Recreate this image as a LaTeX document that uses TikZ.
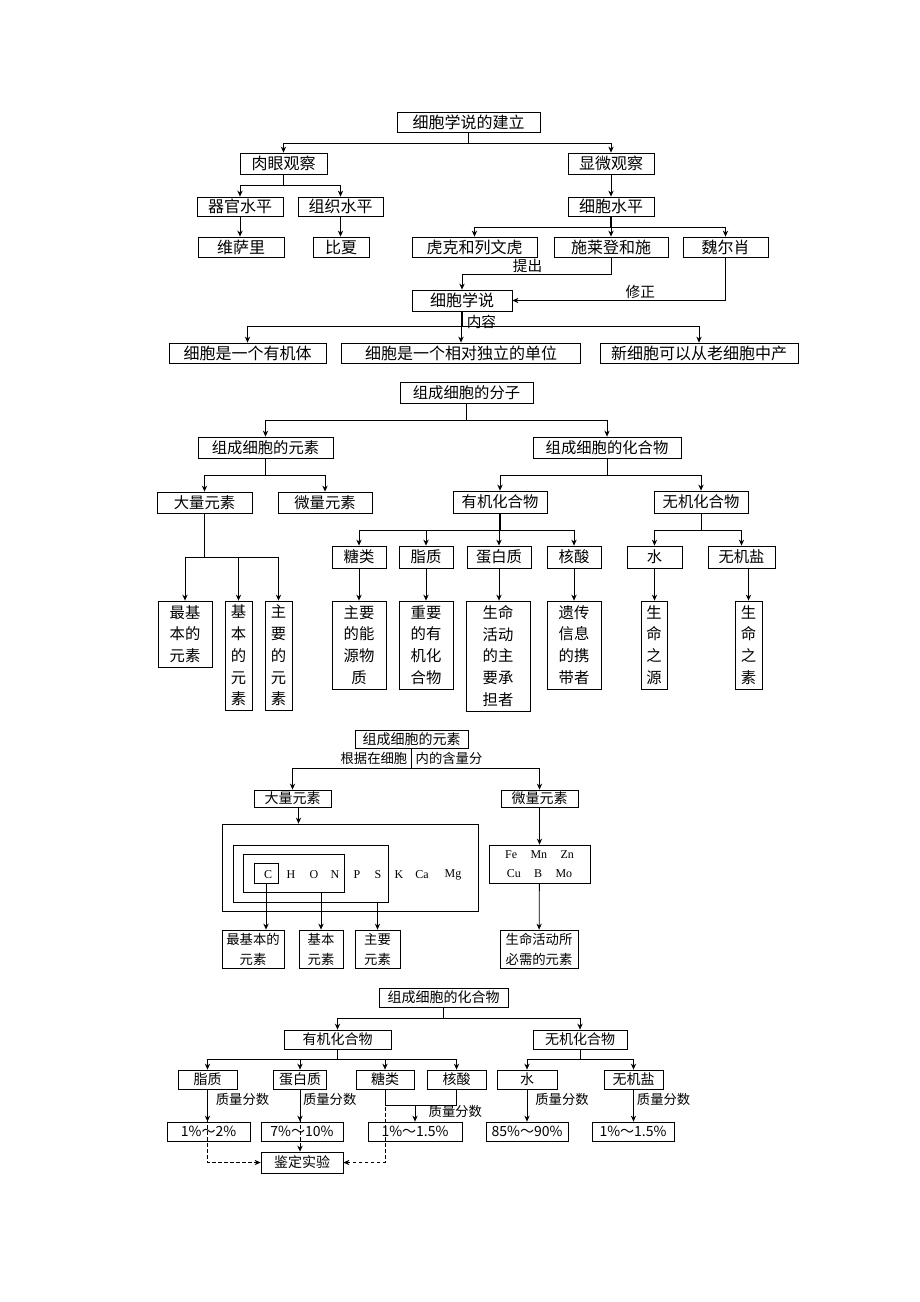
\documentclass[tikz,border=0pt]{standalone}
\usepackage{fontspec}
\setmainfont{Noto Sans CJK SC}
\newfontfamily\elfont{Liberation Serif}
\usetikzlibrary{arrows.meta}

\tikzset{
  wd/.style={minimum width=#1*0.75pt},
  ht/.style={minimum height=#1*0.75pt},
  box/.style={draw, inner sep=0pt, font=\fontsize{10.5}{12}\selectfont},
  col/.style={box, align=center, font=\fontsize{11.5}{16.3}\selectfont},
  pair/.style={box, align=center, font=\fontsize{10}{15}\selectfont},
  lbl/.style={inner sep=1pt, font=\fontsize{10}{11}\selectfont},
  el/.style={inner sep=0pt, font=\elfont\fontsize{9}{10}\selectfont},
  ar/.style={-{Stealth[length=4.5pt,width=4pt]}},
  dashline/.style={dash pattern=on 2.5pt off 2pt},
  bold/.style={line width=1.2pt},
}

\begin{document}
\begin{tikzpicture}[x=0.75pt,y=-0.75pt,line width=0.6pt]
    \useasboundingbox (0,0) rectangle (920,1302);

    % cell theory
    \begin{scope}[box/.append style={font=\fontsize{12}{14}\selectfont},
                  lbl/.append style={font=\fontsize{11}{12}\selectfont}]
    \node[box,wd=143,ht=20] (build) at (468.5,122) {细胞学说的建立};
    \node[box,wd=87,ht=21] (naked) at (283.5,163.5) {肉眼观察};
    \node[box,wd=86,ht=21] (micro) at (611,163.5) {显微观察};
    \node[box,wd=86,ht=19] (organ) at (240,206.5) {器官水平};
    \node[box,wd=85,ht=19] (tissue) at (340.5,206.5) {组织水平};
    \node[box,wd=86,ht=19] (cell) at (611,206.5) {细胞水平};
    \node[box,wd=86,ht=20] (vesalius) at (241,247) {维萨里};
    \node[box,wd=56,ht=20] (bichat) at (341,247) {比夏};
    \node[box,wd=125,ht=20] (hooke) at (474.5,247) {虎克和列文虎};
    \node[box,wd=114,ht=20] (schleiden) at (611,247) {施莱登和施};
    \node[box,wd=85,ht=20] (virchow) at (725.5,247) {魏尔肖};
    \node[box,wd=100,ht=21] (theory) at (462,300.5) {细胞学说};
    \node[box,wd=157,ht=20] (whole) at (247.5,353) {细胞是一个有机体};
    \node[box,wd=239,ht=20] (unit) at (461,353) {细胞是一个相对独立的单位};
    \node[box,wd=198,ht=20] (newcell) at (699,353) {新细胞可以从老细胞中产};

    \coordinate (b1) at (build.south |- 0,143);
    \coordinate (b2) at (naked.south |- 0,185);
    \coordinate (b3) at (cell.south |- 0,227);
    \coordinate (b4) at (theory.south |- 0,326);
    \draw (build.south) -- (b1);
    \draw[ar] (b1) -| (naked);
    \draw[ar] (b1) -| (micro);
    \draw (naked.south) -- (b2);
    \draw[ar] (b2) -| (organ);
    \draw[ar] (b2) -| (tissue);
    \draw[ar] (organ.south) -- (organ.south |- vesalius.north);
    \draw[ar] (tissue.south) -- (tissue.south |- bichat.north);
    \draw[ar] (micro) -- (cell);
    \draw[bold] (cell.south) -- (b3);
    \draw[ar] (b3) -| (hooke);
    \draw[ar] (b3) -| (schleiden);
    \draw[ar] (b3) -| (virchow);
    \draw[ar] (schleiden.south) -- ++(0,17) -| node[lbl,pos=0.28,above] {提出} (theory);
    \draw[ar] (virchow.south) |- node[lbl,pos=0.7,above] {修正} (theory.east);
    \draw[bold] (theory.south) -- node[lbl,pos=0.73,right=2pt] {内容} (b4);
    \draw[ar] (b4) -| (whole);
    \draw[ar] (b4) -| (unit);
    \draw[ar] (b4) -| (newcell);
    \end{scope}

    % molecules of the cell
    \begin{scope}[box/.append style={font=\fontsize{11.5}{14}\selectfont}]
    \node[box,wd=133,ht=21] (mol) at (466.5,392.5) {组成细胞的分子};
    \node[box,wd=135,ht=21] (elem) at (265.5,447.5) {组成细胞的元素};
    \node[box,wd=148,ht=21] (comp) at (607,447.5) {组成细胞的化合物};
    \node[box,wd=95,ht=21] (major) at (204.5,502.5) {大量元素};
    \node[box,wd=94,ht=21] (trace) at (325,502.5) {微量元素};
    \node[box,wd=94,ht=22] (org) at (500,502) {有机化合物};
    \node[box,wd=94,ht=22] (inorg) at (701,502) {无机化合物};
    \node[box,wd=54,ht=22] (sugar) at (359,557) {糖类};
    \node[box,wd=54,ht=22] (lipid) at (426,557) {脂质};
    \node[box,wd=64,ht=22] (protein) at (499,557) {蛋白质};
    \node[box,wd=54,ht=22] (nucleic) at (574,557) {核酸};
    \node[box,wd=55,ht=22] (water) at (654.5,557) {水};
    \node[box,wd=67,ht=22] (salt) at (741.5,557) {无机盐};
    \end{scope}
    \node[col,wd=54,ht=66] (fund) at (185,634) {最基\\本的\\元素};
    \node[col,wd=27,ht=109] (basic) at (238.5,655.5) {基\\本\\的\\元\\素};
    \node[col,wd=27,ht=109] (main) at (278.5,655.5) {主\\要\\的\\元\\素};
    \node[col,wd=54,ht=88] (energy) at (359,645) {主要\\的能\\源物\\质};
    \node[col,wd=54,ht=88] (orgmat) at (426,645) {重要\\的有\\机化\\合物};
    \node[col,wd=64,ht=110] (carrier) at (498,656) {生命\\活动\\的主\\要承\\担者};
    \node[col,wd=54,ht=88] (genetic) at (574,645) {遗传\\信息\\的携\\带者};
    \node[col,wd=26,ht=88] (source) at (654,645) {生\\命\\之\\源};
    \node[col,wd=27,ht=88] (essence) at (748.5,645) {生\\命\\之\\素};

    \coordinate (m1) at (mol.south |- 0,420);
    \coordinate (m2) at (elem.south |- 0,475);
    \coordinate (m3) at (comp.south |- 0,475);
    \coordinate (m4) at (major.south |- 0,557);
    \coordinate (m5) at (org.south |- 0,530);
    \coordinate (m6) at (inorg.south |- 0,530);
    \draw (mol.south) -- (m1);
    \draw[ar] (m1) -| (elem);
    \draw[ar] (m1) -| (comp);
    \draw (elem.south) -- (m2);
    \draw[ar] (m2) -| (major);
    \draw[ar] (m2) -| (trace);
    \draw (comp.south) -- (m3);
    \draw[ar] (m3) -| (org);
    \draw[ar] (m3) -| (inorg);
    \draw (major.south) -- (m4);
    \draw[ar] (m4) -| (fund);
    \draw[ar] (m4) -| (basic);
    \draw[ar] (m4) -| (main);
    \draw[bold] (org.south) -- (m5);
    \foreach \n in {sugar,lipid,protein,nucleic}
        \draw[ar] (m5) -| (\n);
    \draw (inorg.south) -- (m6);
    \draw[ar] (m6) -| (water);
    \draw[ar] (m6) -| (salt);
    \draw[ar] (sugar.south) -- (sugar.south |- energy.north);
    \draw[ar] (lipid.south) -- (lipid.south |- orgmat.north);
    \draw[ar] (protein.south) -- (protein.south |- carrier.north);
    \draw[ar] (nucleic.south) -- (nucleic.south |- genetic.north);
    \draw[ar] (water.south) -- (water.south |- source.north);
    \draw[ar] (essence.north |- salt.south) -- (essence.north);

    % elements of the cell
    \node[box,wd=113,ht=18] (elem2) at (411.5,739) {组成细胞的元素};
    \node[lbl,anchor=east] (basis) at (409,758) {根据在细胞};
    \node[lbl,anchor=west] (basis2) at (414,758) {内的含量分};
    \node[box,wd=77,ht=17] (major2) at (292.5,798.5) {大量元素};
    \node[box,wd=77,ht=17] (trace2) at (539.5,798.5) {微量元素};
    \node[draw,inner sep=0pt,wd=256,ht=87] (outer) at (350,867.5) {};
    \node[draw,inner sep=0pt,wd=155,ht=57] (mid) at (310.5,873.5) {};
    \node[draw,inner sep=0pt,wd=101,ht=38] (inner) at (293.5,873) {};
    \node[draw,inner sep=0pt,wd=24,ht=20] (cbox) at (266,873) {};
    \foreach \s/\x in {C/268,H/291,O/314,N/335,P/357,S/378,K/399,Ca/422,Mg/453}
        \node[el] (e\s) at (\x,875) {\s};
    \node[box,wd=101,ht=38,align=center,font=\elfont\fontsize{9}{14}\selectfont] (fe) at (539.5,864)
        {Fe\hspace{10pt}Mn\hspace{10pt}Zn\\Cu\hspace{10pt}B\hspace{10pt}Mo};
    \node[pair,wd=62,ht=38] (minimal) at (253,949) {最基本的\\元素};
    \node[pair,wd=44,ht=38] (basic2) at (321,949) {基本\\元素};
    \node[pair,wd=45,ht=38] (main2) at (377.5,949) {主要\\元素};
    \node[pair,wd=78,ht=38] (needed) at (539,949) {生命活动所\\必需的元素};

    \coordinate (n1) at (elem2.south |- 0,768);
    \draw (elem2.south) -- (n1);
    \draw[ar] (n1) -| (major2);
    \draw[ar] (n1) -| (trace2);
    \draw[ar] ([xshift=4.5pt]major2.south) -- ([xshift=4.5pt]major2.south |- outer.north);
    \draw[ar] (trace2) -- (fe);
    \draw[ar] (cbox.south) -- (cbox.south |- minimal.north);
    \draw[ar] (basic2.north |- inner.south) -- (basic2.north);
    \draw[ar] (main2.north |- mid.south) -- (main2.north);
    \draw[ar] (fe) -- (needed);

    % compounds of the cell
    \node[box,wd=129,ht=19] (comp2) at (443.5,997.5) {组成细胞的化合物};
    \node[box,wd=107,ht=19] (org2) at (337.5,1039.5) {有机化合物};
    \node[box,wd=94,ht=19] (inorg2) at (580,1039.5) {无机化合物};
    \node[box,wd=59,ht=19] (lipid2) at (207.5,1079.5) {脂质};
    \node[box,wd=53,ht=19] (protein2) at (300,1079.5) {蛋白质};
    \node[box,wd=58,ht=19] (sugar2) at (385,1079.5) {糖类};
    \node[box,wd=59,ht=19] (nucleic2) at (456.5,1079.5) {核酸};
    \node[box,wd=60,ht=19] (water2) at (527,1079.5) {水};
    \node[box,wd=59,ht=19] (salt2) at (633.5,1079.5) {无机盐};
    \node[box,wd=83,ht=19] (p1) at (208.5,1131.5) {1\%～2\%};
    \node[box,wd=82,ht=19] (p2) at (302,1131.5) {7\%～10\%};
    \node[box,wd=94,ht=19] (p3) at (415,1131.5) {1\%～1.5\%};
    \node[box,wd=82,ht=19] (p4) at (527,1131.5) {85\%～90\%};
    \node[box,wd=82,ht=19] (p5) at (633,1131.5) {1\%～1.5\%};
    \node[box,wd=82,ht=21] (test) at (302,1162.5) {鉴定实验};

    \coordinate (q1) at (comp2.south |- 0,1018);
    \coordinate (q2) at (org2.south |- 0,1059);
    \coordinate (q3) at (inorg2.south |- 0,1059);
    \coordinate (sj) at (p3.north |- 0,1105);
    \draw (comp2.south) -- (q1);
    \draw[ar] (q1) -| (org2);
    \draw[ar] (q1) -| (inorg2);
    \draw (org2.south) -- (q2);
    \foreach \n in {lipid2,protein2,sugar2,nucleic2}
        \draw[ar] (q2) -| (\n);
    \draw (inorg2.south) -- (q3);
    \draw[ar] (q3) -| (water2);
    \draw[ar] (q3) -| (salt2);
    \draw[ar] (lipid2.south) -- node[lbl,pos=0.3,right=5pt] {质量分数} (lipid2.south |- p1.north);
    \draw[ar] (protein2.south) -- node[lbl,pos=0.3,right=1pt] {质量分数} (protein2.south |- p2.north);
    \draw (sugar2.south) |- (nucleic2.south |- sj) -- (nucleic2.south);
    \draw[ar] (sj) -- node[lbl,pos=0.4,right=9pt] {质量分数} (p3.north);
    \draw[ar] (water2.south) -- node[lbl,pos=0.3,right=5pt] {质量分数} (water2.south |- p4.north);
    \draw[ar,bold] (salt2.south) -- node[lbl,pos=0.3,right=1pt] {质量分数} (salt2.south |- p5.north);
    \draw[dashline,ar] (lipid2.south) |- (test.west);
    \draw[dashline,ar] (protein2.south) -- (protein2.south |- test.north);
    \draw[dashline,ar] (sugar2.south) |- (test.east);
\end{tikzpicture}
\end{document}
